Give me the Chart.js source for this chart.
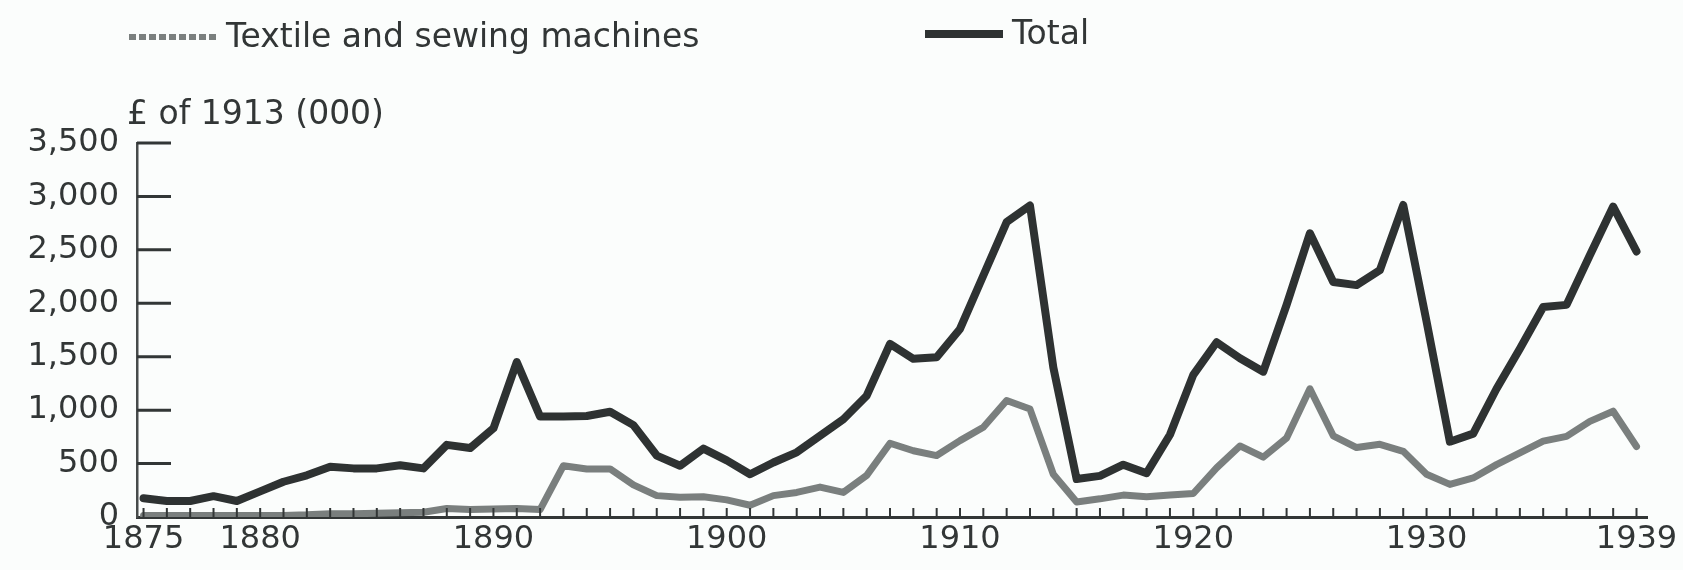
<!DOCTYPE html>
<html>
<head>
<meta charset="utf-8">
<script src="https://cdn.jsdelivr.net/npm/chart.js@4.4.1/dist/chart.umd.min.js"></script>
<style>
  html, body { margin: 0; padding: 0; background: #fbfdfc; }
  #wrap { position: relative; width: 1683px; height: 570px; }
</style>
</head>
<body>
<div id="wrap"><canvas id="chart"></canvas></div>
<script>
// years on the x axis, one point per year
const years = [
  1875, 1876, 1877, 1878, 1879, 1880, 1881, 1882, 1883, 1884,
  1885, 1886, 1887, 1888, 1889, 1890, 1891, 1892, 1893, 1894,
  1895, 1896, 1897, 1898, 1899, 1900, 1901, 1902, 1903, 1904,
  1905, 1906, 1907, 1908, 1909, 1910, 1911, 1912, 1913, 1914,
  1915, 1916, 1917, 1918, 1919, 1920, 1921, 1922, 1923, 1924,
  1925, 1926, 1927, 1928, 1929, 1930, 1931, 1932, 1933, 1934,
  1935, 1936, 1937, 1938, 1939
];
const yearLabels = [1875, 1880, 1890, 1900, 1910, 1920, 1930, 1939];

// £ of 1913 (000)
const textile = [
  15, 15, 15, 15, 15, 15, 15, 20, 30, 30,
  35, 40, 45, 80, 70, 75, 80, 70, 480, 450,
  450, 300, 200, 185, 190, 160, 110, 200, 230, 280,
  230, 390, 690, 620, 575, 715, 840, 1090, 1010, 400,
  140, 170, 205, 190, 205, 220, 460, 665, 560, 740,
  1200, 760, 650, 680, 615, 400, 305, 365, 490, 600,
  710, 755, 895, 990, 660
];
const total = [
  175, 150, 150, 195, 150, 240, 330, 390, 470, 455,
  455, 485, 455, 675, 645, 830, 1450, 940, 940, 945,
  985, 860, 575, 480, 640, 530, 400, 510, 605, 760,
  915, 1135, 1620, 1480, 1495, 1760, 2260, 2760, 2915, 1400,
  355, 385, 490, 410, 770, 1330, 1635, 1485, 1360, 1985,
  2655, 2200, 2170, 2310, 2920, 1830, 705, 780, 1200, 1575,
  1965, 1985, 2450, 2905, 2485
];
const yTicks = [0, 500, 1000, 1500, 2000, 2500, 3000, 3500];

const INK = "#323636";
Chart.defaults.font.family = "'DejaVu Sans', sans-serif";
Chart.defaults.color = INK;

// short tick marks pointing into the plot, plus legend and unit label
const decor = {
  id: "decor",
  afterDatasetsDraw(chart) {
    const { ctx, scales: { x, y } } = chart;
    ctx.save();
    ctx.strokeStyle = INK;
    ctx.lineWidth = 3;
    yTicks.slice(1).forEach(v => {
      const py = y.getPixelForValue(v);
      ctx.beginPath();
      ctx.moveTo(x.left, py);
      ctx.lineTo(x.left + 34, py);
      ctx.stroke();
    });
    ctx.lineWidth = 2;
    years.forEach(v => {
      const px = x.getPixelForValue(v);
      ctx.beginPath();
      ctx.moveTo(px, y.bottom);
      ctx.lineTo(px, y.bottom - 9);
      ctx.stroke();
    });
    ctx.restore();
  },
  afterDraw(chart) {
    const { ctx } = chart;
    const ds = chart.data.datasets;
    ctx.save();
    ctx.fillStyle = INK;
    ctx.textBaseline = "middle";
    ctx.textAlign = "left";
    ctx.font = "33px 'DejaVu Sans'";
    // legend
    ctx.lineCap = "butt";
    ctx.strokeStyle = ds[0].borderColor;
    ctx.lineWidth = 6;
    ctx.setLineDash([7, 3]);
    ctx.beginPath(); ctx.moveTo(129, 37); ctx.lineTo(216, 37); ctx.stroke();
    ctx.setLineDash([]);
    ctx.fillText(ds[0].label, 226, 38);
    ctx.strokeStyle = ds[1].borderColor;
    ctx.lineWidth = 8;
    ctx.beginPath(); ctx.moveTo(925, 34); ctx.lineTo(1003, 34); ctx.stroke();
    ctx.fillText(ds[1].label, 1012, 35);
    // unit label
    ctx.fillText("£ of 1913 (000)", 127, 115);
    ctx.restore();
  }
};

new Chart(document.getElementById("chart"), {
  type: "line",
  data: {
    datasets: [
      {
        label: "Textile and sewing machines",
        data: years.map((yr, i) => ({ x: yr, y: textile[i] })),
        borderColor: "#7a7f7e",
        borderWidth: 7,
        pointRadius: 0,
        tension: 0,
        borderJoinStyle: "round",
        borderCapStyle: "round",
      },
      {
        label: "Total",
        data: years.map((yr, i) => ({ x: yr, y: total[i] })),
        borderColor: "#2e3232",
        borderWidth: 8,
        pointRadius: 0,
        tension: 0,
        borderJoinStyle: "round",
        borderCapStyle: "round",
      },
    ],
  },
  options: {
    responsive: true,
    maintainAspectRatio: false,
    animation: false,
    events: [],
    layout: { padding: { top: 143, right: 36, left: 0, bottom: 0 } },
    plugins: { legend: { display: false }, tooltip: { enabled: false } },
    scales: {
      x: {
        type: "linear",
        min: 1874.72,
        max: 1939.45,
        afterBuildTicks: s => { s.ticks = yearLabels.map(v => ({ value: v })); },
        afterFit: s => { s.height = 53; },
        ticks: {
          autoSkip: false,
          maxRotation: 0,
          padding: 3,
          font: { size: 32 },
          callback: v => String(v),
        },
        grid: { display: false, drawTicks: false },
        border: { display: true, color: INK, width: 3 },
      },
      y: {
        min: 0,
        max: 3500,
        afterBuildTicks: s => { s.ticks = yTicks.map(v => ({ value: v })); },
        afterFit: s => { s.width = 137; },
        ticks: {
          padding: 18,
          font: { size: 32 },
          callback: v => v.toLocaleString("en-US"),
        },
        grid: { display: false, drawTicks: false },
        border: { display: true, color: "#474b4b", width: 2.5 },
      },
    },
  },
  plugins: [decor],
});
</script>
</body>
</html>
